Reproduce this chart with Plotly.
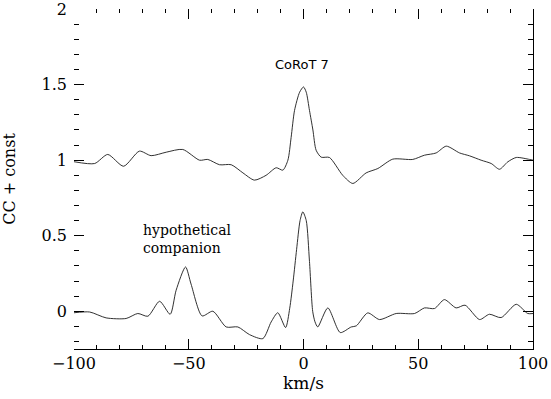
import plotly.graph_objects as go

# CoRoT 7 cross-correlation (upper curve)
v_corot = [-100, -91, -85.3, -78.4, -71.5, -66.4, -59.8, -52.6, -45.3, -41.7, -36.6, -31.5,
           -26.4, -21.4, -16.3, -11.9, -9, -6.8, -5.4, -3.9, -1.7, 0, 1.2, 2.6, 4.1, 5.5, 7.7,
           11.3, 17.1, 21.5, 27.3, 32.4, 38.9, 47.6, 52.7, 57.8, 62.2, 68, 72.3, 77.4, 81.8,
           85.4, 89, 92.7, 98.5, 100]
cc_corot = [0.99, 0.978, 1.038, 0.96, 1.06, 1.03, 1.053, 1.071, 1.0, 1.005, 0.97, 0.97,
            0.916, 0.868, 0.90, 0.95, 0.934, 1.0, 1.15, 1.33, 1.45, 1.485, 1.45, 1.33, 1.2, 1.066, 1.02,
            1.018, 0.90, 0.846, 0.916, 0.945, 1.007, 1.005, 1.033, 1.048, 1.093, 1.048, 1.029, 1.0, 0.978,
            0.94, 0.989, 1.018, 1.005, 1.0]

# hypothetical companion (lower curve)
v_comp = [-100, -93.2, -86, -77.3, -72.2, -67.8, -62.7, -58.1, -55.5, -51.4, -49, -44.2,
          -39.5, -33.7, -28.6, -23.5, -17.7, -14.1, -11.2, -7.8, -6, -4.5, -3, -1.5, -0.3, 1.2,
          2.6, 4, 5, 6.2, 10.6, 16, 20.8, 23, 28, 33.1, 40.4, 48.4, 52.7, 57.1, 61.4, 66.5,
          70.4, 76.7, 81, 86.1, 92.7, 97.7, 100]
cc_comp = [-0.01, -0.005, -0.044, -0.048, -0.015, -0.033, 0.066, -0.02, 0.139, 0.293, 0.18, -0.031,
           0.0, -0.104, -0.104, -0.155, -0.181, -0.071, -0.01, -0.108, 0.02, 0.2, 0.41, 0.6, 0.658, 0.6,
           0.33, 0.0, -0.07, -0.104, 0.022, -0.141, -0.104, -0.097, -0.011, -0.055, -0.015, -0.015, 0.022, 0.018, 0.077, 0.022,
           0.04, -0.055, -0.02, -0.042, 0.046, -0.015, -0.015]

x_range = [-100, 100]
y_range = [-0.25, 2.001]
x_ticks = [-100, -50, 0, 50, 100]
y_ticks = [0, 0.5, 1, 1.5, 2]
y_ticklabels = ["0", "0.5", "1", "1.5", "2"]

serif = "DejaVu Serif"
line_style = dict(color="#1a1a1a", width=0.9, shape="spline", smoothing=0.7)

fig = go.Figure()
fig.add_trace(go.Scatter(x=v_corot, y=cc_corot, mode="lines", line=line_style, showlegend=False))
fig.add_trace(go.Scatter(x=v_comp, y=cc_comp, mode="lines", line=line_style, showlegend=False))
fig.add_trace(go.Scatter(x=[], y=[], xaxis="x2", yaxis="y2", showlegend=False))

fig.add_annotation(x=-0.5, y=1.635, text="CoRoT 7", showarrow=False,
                   font=dict(family="DejaVu Sans", size=13, color="black"), xanchor="center")
fig.add_annotation(x=-70.5, y=0.48, text="hypothetical<br>companion", showarrow=False,
                   xanchor="left", align="left", borderpad=0,
                   font=dict(family=serif, size=14, color="black"))

tickfont = dict(family=serif, size=16, color="black")
fig.update_layout(
    width=551, height=399,
    margin=dict(l=74, r=18, t=9, b=50),
    plot_bgcolor="white", paper_bgcolor="white",
    xaxis=dict(range=x_range, tickvals=x_ticks, ticks="inside", ticklen=10, tickwidth=1,
               tickcolor="black", showline=True, linecolor="black", linewidth=1,
               showgrid=False, zeroline=False, tickfont=tickfont, automargin=False,
               ticklabeloverflow="allow",
               minor=dict(dtick=10, ticks="inside", ticklen=4, tickcolor="black", showgrid=False),
               title=dict(text="km/s", font=dict(family=serif, size=17, color="black"), standoff=2)),
    xaxis2=dict(range=x_range, overlaying="x", side="top", matches="x", tickvals=x_ticks,
                ticks="inside", ticklen=10, tickcolor="black", showline=False, showgrid=False,
                zeroline=False, showticklabels=False, automargin=False,
                minor=dict(dtick=10, ticks="inside", ticklen=4, tickcolor="black", showgrid=False)),
    yaxis=dict(range=y_range, tickvals=y_ticks, ticktext=y_ticklabels, ticks="inside", ticklen=10,
               tickcolor="black", showline=False, showgrid=False, zeroline=False, tickfont=tickfont,
               ticklabelstandoff=6, automargin=False, ticklabeloverflow="allow",
               minor=dict(dtick=0.1, ticks="inside", ticklen=5, tickcolor="black", showgrid=False),
               title=dict(text="CC + const", font=dict(family=serif, size=16, color="black"), standoff=21)),
    yaxis2=dict(range=y_range, overlaying="y", side="right", matches="y", tickvals=y_ticks,
                ticks="inside", ticklen=10, tickcolor="black", showline=True, linecolor="black",
                showgrid=False, zeroline=False, showticklabels=False, automargin=False,
                minor=dict(dtick=0.1, ticks="inside", ticklen=5, tickcolor="black", showgrid=False)),
)

fig.write_html("out.html", config={"displayModeBar": False},
               post_script="document.body.style.margin='0';document.body.style.overflow='hidden';")
